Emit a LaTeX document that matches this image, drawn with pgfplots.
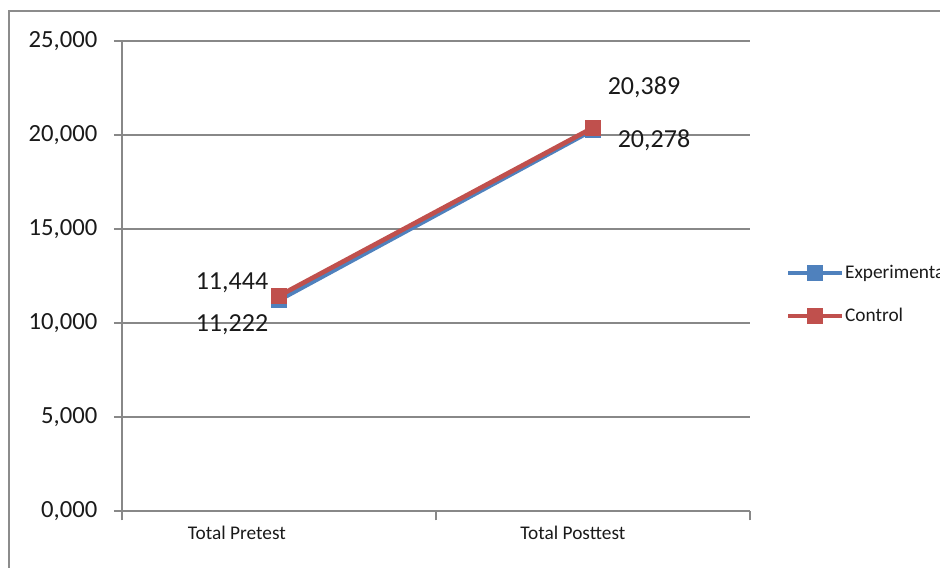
\documentclass[border=0pt]{standalone}
\usepackage{fontspec}
\setmainfont{Carlito}
\usepackage{pgfplots}
\usepackage{pgfplotstable}
\pgfplotsset{compat=1.18}
\pgfplotsset{/pgf/number format/assume math mode=true}

\definecolor{expblue}{HTML}{4F81BD}
\definecolor{ctrlred}{HTML}{C0504D}
\definecolor{gridgray}{HTML}{888888}
\definecolor{framegray}{HTML}{8C8C8C}
\definecolor{labeltext}{HTML}{1A1A1A}

% x = category index, y = mean score, dx/dy = label offset (pt)
\pgfplotstableread{
x y dx dy
0 11.222 -35.25 -18.75
1 20.278 45.75 -8.25
}\experimental

\pgfplotstableread{
x y dx dy
0 11.444 -35.25 9.75
1 20.389 38.25 30
}\control

\begin{document}
\begin{tikzpicture}
\useasboundingbox (0,0) rectangle (705pt,426pt);
% chart area frame
\draw[framegray, line width=1.5pt] (6.4pt,-2pt) -- (6.4pt,417.75pt) -- (710pt,417.75pt);
\begin{axis}[
  at={(91.5pt,42.75pt)}, anchor=south west,
  scale only axis, width=471pt, height=352.5pt,
  xmin=-0.5, xmax=1.5, ymin=0, ymax=25,
  xtick={-0.134,0.936},
  xticklabels={Total Pretest, Total Posttest},
  minor xtick={-0.5,0.5,1.5},
  ytick={0,5,...,25},
  scaled y ticks=false,
  axis lines*=left,
  axis line style={gridgray, line width=0.8pt, -},
  ymajorgrids,
  major grid style={gridgray, line width=0.8pt},
  tick align=outside,
  major tick length=6pt, minor tick length=7pt,
  every major x tick/.style={draw=none},
  every minor x tick/.style={gridgray, line width=0.8pt},
  every major y tick/.style={gridgray, line width=0.8pt},
  yticklabel style={font=\fontsize{18.5}{21}\selectfont, text=labeltext,
    /pgf/number format/fixed, /pgf/number format/fixed zerofill,
    /pgf/number format/precision=3, /pgf/number format/use comma,
    xshift=-9pt},
  xticklabel style={font=\fontsize{14.5}{17}\selectfont, text=labeltext, yshift=-2pt},
  legend style={at={(axis description cs:1.057,0.4606)}, anchor=west,
    draw=none, fill=none, inner sep=0pt, row sep=19pt,
    font=\fontsize{14.5}{17}\selectfont, text=labeltext,
    nodes={inner sep=0.8pt}},
  legend cell align=left,
  legend image code/.code={%
    \draw[#1, line width=3pt, mark size=5.6pt, mark repeat=2, mark phase=2]
      plot coordinates {(0pt,0pt) (20.25pt,0pt) (40.5pt,0pt)};},
  point meta=y,
  nodes near coords={\pgfmathprintnumber[fixed,fixed zerofill,precision=3,use comma]{\pgfplotspointmeta}},
  visualization depends on={\thisrow{dx} \as \dx},
  visualization depends on={\thisrow{dy} \as \dy},
  every node near coord/.append style={anchor=center, xshift=\dx pt, yshift=\dy pt,
    font=\fontsize{19.5}{22}\selectfont, text=labeltext},
]
\addplot[expblue, line width=3.5pt, mark=square*, mark size=5.4pt,
  mark options={solid, line width=0.5pt}]
  table[x=x, y=y]{\experimental};
\addlegendentry{Experimental}
\addplot[ctrlred, line width=3.5pt, mark=square*, mark size=5.4pt,
  mark options={solid, line width=0.5pt}]
  table[x=x, y=y]{\control};
\addlegendentry{Control}
\end{axis}
\end{tikzpicture}
\end{document}
